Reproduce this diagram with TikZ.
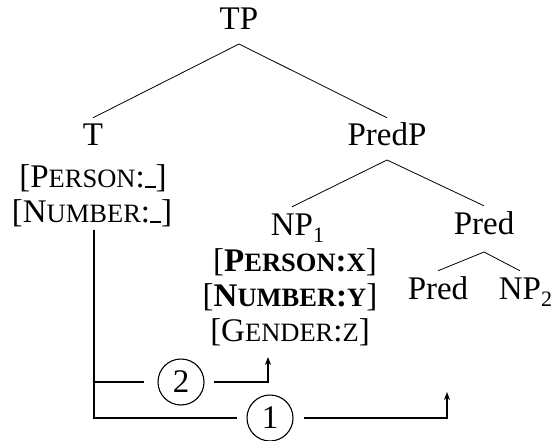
\documentclass[tikz,border=0pt]{standalone}
\usepackage{fontspec}
\setmainfont{Liberation Serif}
\usetikzlibrary{arrows.meta}
% faked small capitals and the empty-value bar
\newcommand{\smc}[1]{{\fontsize{26.5}{30}\selectfont #1}}
\newcommand{\blank}{\rule[-1pt]{11pt}{2.5pt}}
\newcommand{\sub}[1]{\rlap{\raisebox{-7pt}{\fontsize{22}{24}\selectfont #1}}}

\begin{document}
\begin{tikzpicture}[x=1pt,y=-1pt,
  lab/.style={font=\fontsize{33}{40}\selectfont, inner sep=0pt, anchor=base},
  cat/.style={lab, text height=22pt, text depth=0pt, inner ysep=6pt},
  branch/.style={line width=0.8pt},
  conn/.style={line width=1.6pt},
  numc/.style={circle, draw, line width=1.1pt, minimum size=46pt, inner sep=0pt,
               font=\fontsize{33}{40}\selectfont},
  tip/.style={-{Stealth[length=8pt,width=6pt,inset=2.5pt]}}]

\useasboundingbox (0,0) rectangle (554,441);

% categories
\node[lab] (TP) at (239,30) {TP};
\node[cat] (T) at (93,146) {T};
\node[cat] (PredP) at (387,146) {PredP};
\node[cat] (NP1) at (292,235) {NP\sub{1}};
\node[cat] (PredA) at (484,234) {Pred};
\node[cat] (PredB) at (438,299) {Pred};
\node[cat] (NP2) at (520,299) {NP\sub{2}};

% feature bundles
\node[lab] (perT) at (93,187) {[P\smc{ERSON}:\blank]};
\node[lab] (numT) at (92,222) {[N\smc{UMBER}:\blank]};
\node[lab] (perN) at (295,271) {[\textbf{P\smc{ERSON}:\smc{X}}]};
\node[lab] (numN) at (290,306) {[\textbf{N\smc{UMBER}:\smc{Y}}]};
\node[lab] (genN) at (290,341) {[G\smc{ENDER}:\smc{Z}]};

% tree branches
\draw[branch] (T.north) -- ([yshift=-14pt]TP.base) -- (PredP.north);
\draw[branch] (NP1.north) -- ([yshift=-14pt]PredP.base) -- (PredA.north);
\draw[branch] (PredB.north) -- ([yshift=-18pt]PredA.base) -- (NP2.north);

% agreement steps
\node[numc] (c2) at (181,382) {2};
\node[numc] (c1) at (270,418) {1};
\coordinate (start) at (94,230);
\coordinate (j2) at (94,382);
\coordinate (j1) at (94,418);
\coordinate (a2) at (268,357);
\coordinate (a1) at (447,392);

\draw[conn] (start) -- (j1) -- ([xshift=-9pt]c1.west);
\draw[conn] (j2) -- ([xshift=-13pt]c2.west);
\draw[conn,tip] ([xshift=9pt]c2.east) -| (a2);
\draw[conn,tip] ([xshift=10pt]c1.east) -| (a1);
\end{tikzpicture}
\end{document}
